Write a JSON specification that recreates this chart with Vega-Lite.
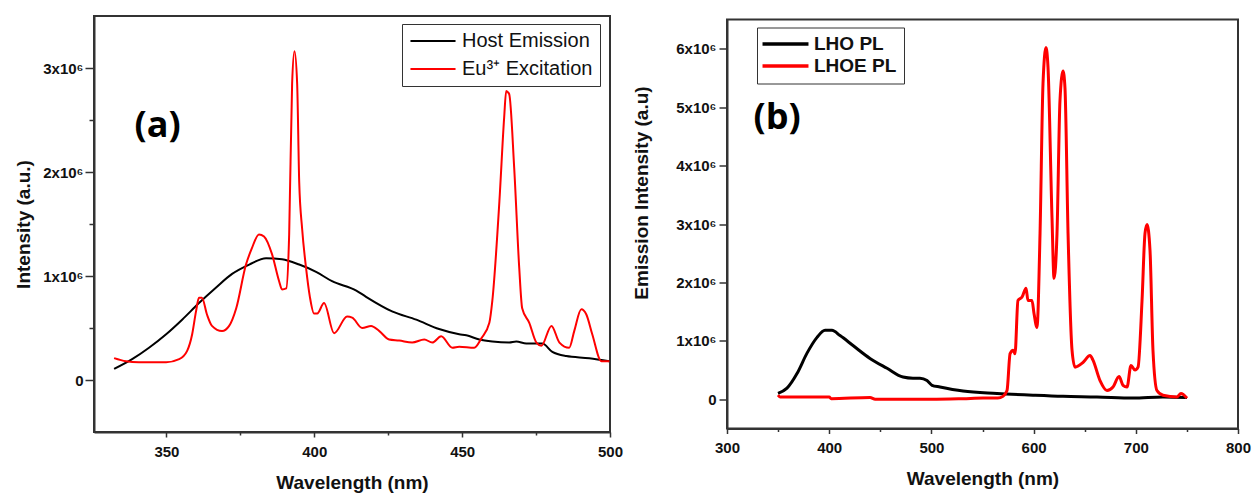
{
  "$schema": "https://vega.github.io/schema/vega-lite/v6.json",
  "background": "white",
  "padding": {"left": 13, "top": 15, "right": 5, "bottom": 0},
  "spacing": 7,
  "center": true,
  "config": {
    "view": {"stroke": "#333333", "strokeWidth": 2},
    "axis": {
      "grid": false,
      "domainColor": "#333333",
      "domainWidth": 2,
      "tickColor": "#333333",
      "tickWidth": 1.5,
      "labelFont": "Liberation Sans",
      "labelFontWeight": "bold",
      "labelFontSize": 15,
      "labelColor": "#111111",
      "labelFlush": false,
      "labelOverlap": false,
      "titleFont": "Liberation Sans",
      "titleFontWeight": "bold",
      "titleFontSize": 19,
      "titleColor": "#111111"
    }
  },
  "resolve": {"scale": {"color": "independent"}, "legend": {"color": "independent"}},
  "hconcat": [
    {
      "width": 516,
      "height": 416,
      "layer": [
        {
          "data": {"values": [
            {"series": "Host Emission", "wavelength": 332.3, "intensity": 106000},
            {"series": "Host Emission", "wavelength": 338.4, "intensity": 200000},
            {"series": "Host Emission", "wavelength": 344.1, "intensity": 310000},
            {"series": "Host Emission", "wavelength": 349.9, "intensity": 440000},
            {"series": "Host Emission", "wavelength": 355.3, "intensity": 580000},
            {"series": "Host Emission", "wavelength": 361.0, "intensity": 740000},
            {"series": "Host Emission", "wavelength": 366.8, "intensity": 890000},
            {"series": "Host Emission", "wavelength": 372.2, "intensity": 1020000},
            {"series": "Host Emission", "wavelength": 378.0, "intensity": 1110000},
            {"series": "Host Emission", "wavelength": 383.7, "intensity": 1170000},
            {"series": "Host Emission", "wavelength": 389.1, "intensity": 1160000},
            {"series": "Host Emission", "wavelength": 394.9, "intensity": 1110000},
            {"series": "Host Emission", "wavelength": 400.6, "intensity": 1040000},
            {"series": "Host Emission", "wavelength": 406.0, "intensity": 950000},
            {"series": "Host Emission", "wavelength": 414.2, "intensity": 860000},
            {"series": "Host Emission", "wavelength": 417.5, "intensity": 800000},
            {"series": "Host Emission", "wavelength": 426.3, "intensity": 660000},
            {"series": "Host Emission", "wavelength": 434.5, "intensity": 580000},
            {"series": "Host Emission", "wavelength": 442.2, "intensity": 490000},
            {"series": "Host Emission", "wavelength": 449.0, "intensity": 440000},
            {"series": "Host Emission", "wavelength": 451.4, "intensity": 430000},
            {"series": "Host Emission", "wavelength": 455.8, "intensity": 390000},
            {"series": "Host Emission", "wavelength": 460.2, "intensity": 370000},
            {"series": "Host Emission", "wavelength": 465.9, "intensity": 360000},
            {"series": "Host Emission", "wavelength": 468.3, "intensity": 370000},
            {"series": "Host Emission", "wavelength": 471.7, "intensity": 350000},
            {"series": "Host Emission", "wavelength": 477.1, "intensity": 350000},
            {"series": "Host Emission", "wavelength": 480.5, "intensity": 270000},
            {"series": "Host Emission", "wavelength": 485.2, "intensity": 230000},
            {"series": "Host Emission", "wavelength": 493.0, "intensity": 210000},
            {"series": "Host Emission", "wavelength": 499.8, "intensity": 180000},
            {"series": "Eu³⁺ Excitation", "wavelength": 332.3, "intensity": 210000},
            {"series": "Eu³⁺ Excitation", "wavelength": 336.3, "intensity": 180000},
            {"series": "Eu³⁺ Excitation", "wavelength": 340.7, "intensity": 170000},
            {"series": "Eu³⁺ Excitation", "wavelength": 349.9, "intensity": 170000},
            {"series": "Eu³⁺ Excitation", "wavelength": 354.3, "intensity": 200000},
            {"series": "Eu³⁺ Excitation", "wavelength": 357.0, "intensity": 280000},
            {"series": "Eu³⁺ Excitation", "wavelength": 358.7, "intensity": 440000},
            {"series": "Eu³⁺ Excitation", "wavelength": 360.0, "intensity": 660000},
            {"series": "Eu³⁺ Excitation", "wavelength": 361.0, "intensity": 790000},
            {"series": "Eu³⁺ Excitation", "wavelength": 362.0, "intensity": 790000},
            {"series": "Eu³⁺ Excitation", "wavelength": 363.7, "intensity": 630000},
            {"series": "Eu³⁺ Excitation", "wavelength": 365.4, "intensity": 520000},
            {"series": "Eu³⁺ Excitation", "wavelength": 368.8, "intensity": 470000},
            {"series": "Eu³⁺ Excitation", "wavelength": 371.2, "intensity": 520000},
            {"series": "Eu³⁺ Excitation", "wavelength": 373.6, "intensity": 690000},
            {"series": "Eu³⁺ Excitation", "wavelength": 376.9, "intensity": 1110000},
            {"series": "Eu³⁺ Excitation", "wavelength": 378.8, "intensity": 1260000},
            {"series": "Eu³⁺ Excitation", "wavelength": 381.3, "intensity": 1400000},
            {"series": "Eu³⁺ Excitation", "wavelength": 383.0, "intensity": 1380000},
            {"series": "Eu³⁺ Excitation", "wavelength": 385.7, "intensity": 1210000},
            {"series": "Eu³⁺ Excitation", "wavelength": 388.1, "intensity": 950000},
            {"series": "Eu³⁺ Excitation", "wavelength": 389.1, "intensity": 870000},
            {"series": "Eu³⁺ Excitation", "wavelength": 390.5, "intensity": 880000},
            {"series": "Eu³⁺ Excitation", "wavelength": 391.5, "intensity": 1400000},
            {"series": "Eu³⁺ Excitation", "wavelength": 392.5, "intensity": 2850000},
            {"series": "Eu³⁺ Excitation", "wavelength": 393.3, "intensity": 3160000},
            {"series": "Eu³⁺ Excitation", "wavelength": 394.2, "intensity": 2850000},
            {"series": "Eu³⁺ Excitation", "wavelength": 394.9, "intensity": 1900000},
            {"series": "Eu³⁺ Excitation", "wavelength": 395.9, "intensity": 1450000},
            {"series": "Eu³⁺ Excitation", "wavelength": 397.2, "intensity": 1080000},
            {"series": "Eu³⁺ Excitation", "wavelength": 398.5, "intensity": 800000},
            {"series": "Eu³⁺ Excitation", "wavelength": 399.9, "intensity": 640000},
            {"series": "Eu³⁺ Excitation", "wavelength": 401.0, "intensity": 640000},
            {"series": "Eu³⁺ Excitation", "wavelength": 403.3, "intensity": 740000},
            {"series": "Eu³⁺ Excitation", "wavelength": 406.7, "intensity": 450000},
            {"series": "Eu³⁺ Excitation", "wavelength": 411.1, "intensity": 610000},
            {"series": "Eu³⁺ Excitation", "wavelength": 412.8, "intensity": 600000},
            {"series": "Eu³⁺ Excitation", "wavelength": 416.2, "intensity": 500000},
            {"series": "Eu³⁺ Excitation", "wavelength": 419.2, "intensity": 520000},
            {"series": "Eu³⁺ Excitation", "wavelength": 422.0, "intensity": 470000},
            {"series": "Eu³⁺ Excitation", "wavelength": 425.3, "intensity": 390000},
            {"series": "Eu³⁺ Excitation", "wavelength": 428.7, "intensity": 380000},
            {"series": "Eu³⁺ Excitation", "wavelength": 433.1, "intensity": 360000},
            {"series": "Eu³⁺ Excitation", "wavelength": 437.2, "intensity": 390000},
            {"series": "Eu³⁺ Excitation", "wavelength": 439.9, "intensity": 360000},
            {"series": "Eu³⁺ Excitation", "wavelength": 442.9, "intensity": 420000},
            {"series": "Eu³⁺ Excitation", "wavelength": 446.7, "intensity": 310000},
            {"series": "Eu³⁺ Excitation", "wavelength": 449.0, "intensity": 320000},
            {"series": "Eu³⁺ Excitation", "wavelength": 454.1, "intensity": 310000},
            {"series": "Eu³⁺ Excitation", "wavelength": 456.5, "intensity": 400000},
            {"series": "Eu³⁺ Excitation", "wavelength": 459.2, "intensity": 550000},
            {"series": "Eu³⁺ Excitation", "wavelength": 460.2, "intensity": 760000},
            {"series": "Eu³⁺ Excitation", "wavelength": 462.6, "intensity": 1720000},
            {"series": "Eu³⁺ Excitation", "wavelength": 464.2, "intensity": 2520000},
            {"series": "Eu³⁺ Excitation", "wavelength": 464.9, "intensity": 2780000},
            {"series": "Eu³⁺ Excitation", "wavelength": 465.9, "intensity": 2750000},
            {"series": "Eu³⁺ Excitation", "wavelength": 467.6, "intensity": 2040000},
            {"series": "Eu³⁺ Excitation", "wavelength": 469.3, "intensity": 1080000},
            {"series": "Eu³⁺ Excitation", "wavelength": 470.3, "intensity": 690000},
            {"series": "Eu³⁺ Excitation", "wavelength": 472.7, "intensity": 550000},
            {"series": "Eu³⁺ Excitation", "wavelength": 475.1, "intensity": 360000},
            {"series": "Eu³⁺ Excitation", "wavelength": 476.8, "intensity": 330000},
            {"series": "Eu³⁺ Excitation", "wavelength": 480.2, "intensity": 520000},
            {"series": "Eu³⁺ Excitation", "wavelength": 482.9, "intensity": 360000},
            {"series": "Eu³⁺ Excitation", "wavelength": 486.2, "intensity": 310000},
            {"series": "Eu³⁺ Excitation", "wavelength": 487.9, "intensity": 470000},
            {"series": "Eu³⁺ Excitation", "wavelength": 490.3, "intensity": 680000},
            {"series": "Eu³⁺ Excitation", "wavelength": 492.0, "intensity": 630000},
            {"series": "Eu³⁺ Excitation", "wavelength": 494.0, "intensity": 440000},
            {"series": "Eu³⁺ Excitation", "wavelength": 497.1, "intensity": 180000},
            {"series": "Eu³⁺ Excitation", "wavelength": 499.8, "intensity": 180000}
          ]},
          "mark": {"type": "line", "strokeWidth": 2, "interpolate": "monotone"},
          "encoding": {
            "x": {
              "field": "wavelength", "type": "quantitative",
              "scale": {"domain": [325.5, 500], "nice": false, "zero": false},
              "axis": {
                "values": [350, 375, 400, 425, 450, 475, 500],
                "labelExpr": "datum.value % 50 === 0 ? datum.label : ''",
                "tickSize": {"condition": {"test": "datum.value % 50 === 0", "value": 5}, "value": 3},
                "labelPadding": 7,
                "title": "Wavelength (nm)",
                "titlePadding": 14
              }
            },
            "y": {
              "field": "intensity", "type": "quantitative",
              "scale": {"domain": [-500000, 3500000], "nice": false, "zero": false},
              "axis": {
                "values": [0, 500000, 1000000, 1500000, 2000000, 2500000, 3000000],
                "labelExpr": "datum.value === 0 ? '0' : (datum.value % 1000000 === 0 ? format(datum.value / 1000000, 'd') + 'x10⁶' : '')",
                "tickSize": {"condition": {"test": "datum.value % 1000000 === 0", "value": 9}, "value": 5},
                "labelPadding": 2,
                "title": "Intensity (a.u.)",
                "titlePadding": 9
              }
            },
            "color": {
              "field": "series", "type": "nominal",
              "scale": {"domain": ["Host Emission", "Eu³⁺ Excitation"], "range": ["#000000", "#ff0000"]},
              "legend": {
                "title": null,
                "orient": "none",
                "legendX": 308,
                "legendY": 8,
                "direction": "vertical",
                "strokeColor": "#333333",
                "fillColor": "white",
                "padding": 7,
                "symbolType": "M-4,0H4",
                "symbolSize": 127,
                "symbolStrokeWidth": 2,
                "symbolFillColor": "transparent",
                "symbolOffset": 14,
                "labelFont": "Liberation Sans",
                "labelFontSize": 20,
                "labelFontWeight": "normal",
                "labelColor": "#111111",
                "labelOffset": 19,
                "labelLimit": 300,
                "rowPadding": 8
              }
            }
          }
        },
        {
          "data": {"values": [{"label": "(a)"}]},
          "mark": {"type": "text", "font": "Open Sans", "fontWeight": "bold", "fontSize": 36, "align": "center", "baseline": "middle", "color": "#000000"},
          "encoding": {
            "text": {"field": "label"},
            "x": {"datum": 347},
            "y": {"datum": 2440000}
          }
        }
      ]
    },
    {
      "width": 511,
      "height": 409,
      "layer": [
        {
          "data": {"values": [
            {"series": "LHO PL", "wavelength": 349.9, "intensity": 100000},
            {"series": "LHO PL", "wavelength": 358.7, "intensity": 190000},
            {"series": "LHO PL", "wavelength": 368.5, "intensity": 440000},
            {"series": "LHO PL", "wavelength": 378.3, "intensity": 790000},
            {"series": "LHO PL", "wavelength": 388.1, "intensity": 1060000},
            {"series": "LHO PL", "wavelength": 395.9, "intensity": 1180000},
            {"series": "LHO PL", "wavelength": 402.7, "intensity": 1180000},
            {"series": "LHO PL", "wavelength": 410.6, "intensity": 1090000},
            {"series": "LHO PL", "wavelength": 423.3, "intensity": 920000},
            {"series": "LHO PL", "wavelength": 439.9, "intensity": 700000},
            {"series": "LHO PL", "wavelength": 456.6, "intensity": 530000},
            {"series": "LHO PL", "wavelength": 472.2, "intensity": 380000},
            {"series": "LHO PL", "wavelength": 482.0, "intensity": 360000},
            {"series": "LHO PL", "wavelength": 488.8, "intensity": 360000},
            {"series": "LHO PL", "wavelength": 495.7, "intensity": 320000},
            {"series": "LHO PL", "wavelength": 500.6, "intensity": 240000},
            {"series": "LHO PL", "wavelength": 508.4, "intensity": 210000},
            {"series": "LHO PL", "wavelength": 531.0, "intensity": 140000},
            {"series": "LHO PL", "wavelength": 564.2, "intensity": 100000},
            {"series": "LHO PL", "wavelength": 599.4, "intensity": 70000},
            {"series": "LHO PL", "wavelength": 628.8, "intensity": 50000},
            {"series": "LHO PL", "wavelength": 662.0, "intensity": 40000},
            {"series": "LHO PL", "wavelength": 697.3, "intensity": 20000},
            {"series": "LHO PL", "wavelength": 726.6, "intensity": 40000},
            {"series": "LHO PL", "wavelength": 750.1, "intensity": 30000},
            {"series": "LHOE PL", "wavelength": 349.9, "intensity": 70000},
            {"series": "LHOE PL", "wavelength": 351.9, "intensity": 40000},
            {"series": "LHOE PL", "wavelength": 370.0, "intensity": 40000},
            {"series": "LHOE PL", "wavelength": 400.0, "intensity": 40000},
            {"series": "LHOE PL", "wavelength": 402.0, "intensity": 10000},
            {"series": "LHOE PL", "wavelength": 440.0, "intensity": 30000},
            {"series": "LHOE PL", "wavelength": 445.0, "intensity": 0},
            {"series": "LHOE PL", "wavelength": 500.0, "intensity": 0},
            {"series": "LHOE PL", "wavelength": 531.0, "intensity": 10000},
            {"series": "LHOE PL", "wavelength": 550.5, "intensity": 20000},
            {"series": "LHOE PL", "wavelength": 565.0, "intensity": 20000},
            {"series": "LHOE PL", "wavelength": 570.0, "intensity": 50000},
            {"series": "LHOE PL", "wavelength": 574.0, "intensity": 150000},
            {"series": "LHOE PL", "wavelength": 577.0, "intensity": 780000},
            {"series": "LHOE PL", "wavelength": 580.0, "intensity": 840000},
            {"series": "LHOE PL", "wavelength": 581.8, "intensity": 780000},
            {"series": "LHOE PL", "wavelength": 584.7, "intensity": 1690000},
            {"series": "LHOE PL", "wavelength": 588.7, "intensity": 1750000},
            {"series": "LHOE PL", "wavelength": 592.6, "intensity": 1900000},
            {"series": "LHOE PL", "wavelength": 594.5, "intensity": 1690000},
            {"series": "LHOE PL", "wavelength": 598.4, "intensity": 1690000},
            {"series": "LHOE PL", "wavelength": 600.4, "intensity": 1470000},
            {"series": "LHOE PL", "wavelength": 603.3, "intensity": 1230000},
            {"series": "LHOE PL", "wavelength": 606.3, "intensity": 2840000},
            {"series": "LHOE PL", "wavelength": 609.2, "intensity": 5400000},
            {"series": "LHOE PL", "wavelength": 612.1, "intensity": 6020000},
            {"series": "LHOE PL", "wavelength": 614.1, "intensity": 5680000},
            {"series": "LHOE PL", "wavelength": 618.0, "intensity": 3110000},
            {"series": "LHOE PL", "wavelength": 620.0, "intensity": 2070000},
            {"series": "LHOE PL", "wavelength": 622.9, "intensity": 2840000},
            {"series": "LHOE PL", "wavelength": 625.8, "intensity": 5110000},
            {"series": "LHOE PL", "wavelength": 628.8, "intensity": 5620000},
            {"series": "LHOE PL", "wavelength": 630.7, "intensity": 5330000},
            {"series": "LHOE PL", "wavelength": 633.7, "intensity": 2840000},
            {"series": "LHOE PL", "wavelength": 637.6, "intensity": 840000},
            {"series": "LHOE PL", "wavelength": 640.5, "intensity": 550000},
            {"series": "LHOE PL", "wavelength": 648.3, "intensity": 630000},
            {"series": "LHOE PL", "wavelength": 655.2, "intensity": 750000},
            {"series": "LHOE PL", "wavelength": 658.1, "intensity": 670000},
            {"series": "LHOE PL", "wavelength": 665.0, "intensity": 320000},
            {"series": "LHOE PL", "wavelength": 671.8, "intensity": 150000},
            {"series": "LHOE PL", "wavelength": 677.7, "intensity": 210000},
            {"series": "LHOE PL", "wavelength": 683.6, "intensity": 390000},
            {"series": "LHOE PL", "wavelength": 687.5, "intensity": 240000},
            {"series": "LHOE PL", "wavelength": 691.4, "intensity": 210000},
            {"series": "LHOE PL", "wavelength": 695.3, "intensity": 580000},
            {"series": "LHOE PL", "wavelength": 699.2, "intensity": 500000},
            {"series": "LHOE PL", "wavelength": 702.2, "intensity": 550000},
            {"series": "LHOE PL", "wavelength": 706.1, "intensity": 1690000},
            {"series": "LHOE PL", "wavelength": 709.0, "intensity": 2840000},
            {"series": "LHOE PL", "wavelength": 711.0, "intensity": 2990000},
            {"series": "LHOE PL", "wavelength": 713.9, "intensity": 2550000},
            {"series": "LHOE PL", "wavelength": 716.8, "intensity": 840000},
            {"series": "LHOE PL", "wavelength": 720.7, "intensity": 150000},
            {"series": "LHOE PL", "wavelength": 726.6, "intensity": 70000},
            {"series": "LHOE PL", "wavelength": 740.3, "intensity": 40000},
            {"series": "LHOE PL", "wavelength": 744.2, "intensity": 100000},
            {"series": "LHOE PL", "wavelength": 750.1, "intensity": 20000}
          ]},
          "mark": {"type": "line", "strokeWidth": 3, "interpolate": "monotone"},
          "encoding": {
            "x": {
              "field": "wavelength", "type": "quantitative",
              "scale": {"domain": [300, 800], "nice": false, "zero": false},
              "axis": {
                "values": [300, 350, 400, 450, 500, 550, 600, 650, 700, 750, 800],
                "labelExpr": "datum.value % 100 === 0 ? datum.label : ''",
                "tickSize": {"condition": {"test": "datum.value % 100 === 0", "value": 5}, "value": 3},
                "labelPadding": 7,
                "title": "Wavelength (nm)",
                "titlePadding": 14
              }
            },
            "y": {
              "field": "intensity", "type": "quantitative",
              "scale": {"domain": [-500000, 6500000], "nice": false, "zero": false},
              "axis": {
                "values": [0, 500000, 1000000, 1500000, 2000000, 2500000, 3000000, 3500000, 4000000, 4500000, 5000000, 5500000, 6000000],
                "labelExpr": "datum.value === 0 ? '0' : (datum.value % 1000000 === 0 ? format(datum.value / 1000000, 'd') + 'x10⁶' : '')",
                "tickSize": {"condition": {"test": "datum.value % 1000000 === 0", "value": 8}, "value": 5},
                "labelPadding": 3,
                "title": "Emission Intensity (a.u)",
                "titleX": -86,
                "titleY": 173,
                "titleAngle": -90,
                "titleAlign": "center",
                "titleBaseline": "middle"
              }
            },
            "color": {
              "field": "series", "type": "nominal",
              "scale": {"domain": ["LHO PL", "LHOE PL"], "range": ["#000000", "#ff0000"]},
              "legend": {
                "title": null,
                "orient": "none",
                "legendX": 30,
                "legendY": 8,
                "direction": "vertical",
                "strokeColor": "#333333",
                "fillColor": "white",
                "padding": 7,
                "symbolType": "M-4,0H4",
                "symbolSize": 132,
                "symbolStrokeWidth": 3.5,
                "symbolFillColor": "transparent",
                "symbolOffset": 12,
                "labelFont": "Liberation Sans",
                "labelFontSize": 19,
                "labelFontWeight": "bold",
                "labelColor": "#111111",
                "labelOffset": 19,
                "labelLimit": 300,
                "rowPadding": 2
              }
            }
          }
        },
        {
          "data": {"values": [{"label": "(b)"}]},
          "mark": {"type": "text", "font": "Open Sans", "fontWeight": "bold", "fontSize": 36, "align": "center", "baseline": "middle", "color": "#000000"},
          "encoding": {
            "text": {"field": "label"},
            "x": {"datum": 349},
            "y": {"datum": 4820000}
          }
        }
      ]
    }
  ]
}
